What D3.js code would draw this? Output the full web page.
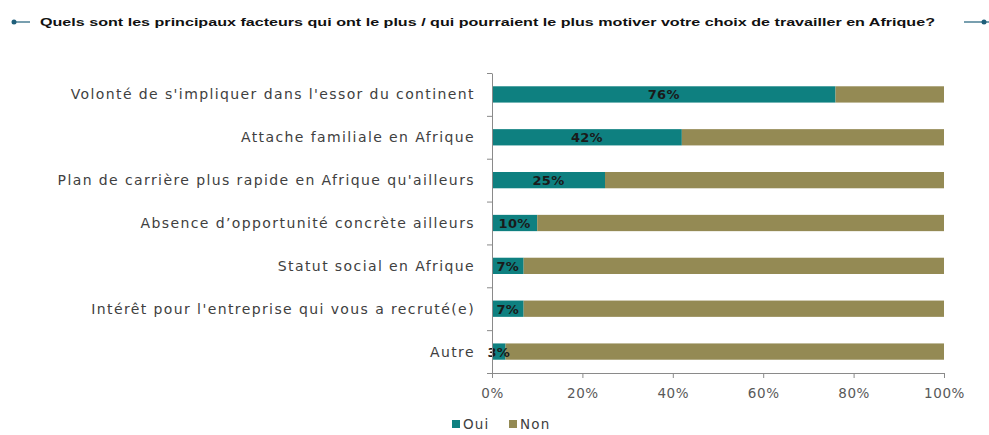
<!DOCTYPE html>
<html><head><meta charset="utf-8">
<script src="https://cdn.jsdelivr.net/npm/d3@7"></script>
<style>body{margin:0;background:#fff}svg{display:block}</style>
</head><body>
<svg id="c" width="989" height="435"></svg>
<script>
const title = "Quels sont les principaux facteurs qui ont le plus / qui pourraient le plus motiver votre choix de travailler en Afrique?";
const categories = [
  "Volonté de s'impliquer dans l'essor du continent",
  "Attache familiale en Afrique",
  "Plan de carrière plus rapide en Afrique qu'ailleurs",
  "Absence d’opportunité concrète ailleurs",
  "Statut social en Afrique",
  "Intérêt pour l'entreprise qui vous a recruté(e)",
  "Autre"
];
const oui = [76, 42, 25, 10, 7, 7, 3];
const non = oui.map(v => 100 - v);
const seriesNames = ["Oui", "Non"];
const xTicks = [0, 20, 40, 60, 80, 100];

const colors = {Oui: "#0E8080", Non: "#948A54"};
const svg = d3.select("#c");
const m = {left: 492, right: 45, top: 73, bottom: 62};
const W = 989, H = 435;

const x = d3.scaleLinear().domain([0, 100]).range([m.left, W - m.right]);
const y = d3.scaleBand().domain(categories).range([m.top, H - m.bottom]).paddingInner(0.62).paddingOuter(0.31);

// title with decorations
const tg = svg.append("g");
tg.append("line").attr("x1", 12).attr("x2", 30).attr("y1", 22).attr("y2", 22).attr("stroke", "#1f5f7a").attr("stroke-width", 1.2);
tg.append("circle").attr("cx", 14).attr("cy", 22).attr("r", 2.5).attr("fill", "#1f5f7a");
tg.append("line").attr("x1", 964).attr("x2", 989).attr("y1", 22).attr("y2", 22).attr("stroke", "#1f5f7a").attr("stroke-width", 1.2);
tg.append("circle").attr("cx", 984).attr("cy", 22).attr("r", 2.5).attr("fill", "#1f5f7a");
tg.append("text").attr("x", 40).attr("y", 26).text(title)
  .attr("font-family", "Liberation Sans, Arial, sans-serif").attr("font-weight", "bold")
  .attr("font-size", 11.5).attr("fill", "#111").attr("textLength", 895).attr("lengthAdjust", "spacingAndGlyphs");

// stacked bars
const stack = d3.stack().keys(seriesNames)(categories.map((c, i) => ({cat: c, Oui: oui[i], Non: non[i]})));
svg.append("g").selectAll("g").data(stack).join("g").attr("fill", d => colors[d.key])
  .selectAll("rect").data(d => d).join("rect")
  .attr("x", d => x(d[0])).attr("width", d => x(d[1]) - x(d[0]))
  .attr("y", d => y(d.data.cat)).attr("height", y.bandwidth());

// value labels
svg.append("g").selectAll("text").data(categories).join("text")
  .attr("x", (c, i) => x(oui[i] / 2)).attr("y", c => y(c) + y.bandwidth() / 2)
  .attr("dy", "0.38em").attr("text-anchor", "middle")
  .attr("font-family", "DejaVu Sans, Verdana, sans-serif").attr("font-weight", "bold")
  .attr("font-size", 13).attr("letter-spacing", 0.3).attr("fill", "#1a1a1a")
  .text((c, i) => oui[i] + "%");

// y axis
const yAxis = d3.axisLeft(d3.scaleLinear().domain([0, categories.length]).range([H - m.bottom, m.top]))
  .tickValues(d3.range(categories.length + 1)).tickFormat("").tickSize(5).tickSizeOuter(0);
const yg = svg.append("g").attr("transform", `translate(${m.left},0)`).call(yAxis);
yg.selectAll("path,line").attr("stroke", "#8a8a8a");

svg.append("g").selectAll("text").data(categories).join("text")
  .attr("x", 475).attr("y", c => y(c) + y.bandwidth() / 2).attr("dy", "0.36em")
  .attr("text-anchor", "end").attr("font-family", "DejaVu Sans, Verdana, sans-serif")
  .attr("font-size", 14).attr("letter-spacing", 1.4).attr("fill", "#404040").text(c => c);

// x axis
const xAxis = d3.axisBottom(x).tickValues(xTicks).tickFormat(d => d + "%").tickSize(5).tickSizeOuter(0).tickPadding(10);
const xg = svg.append("g").attr("transform", `translate(0,${H - m.bottom})`).call(xAxis);
xg.selectAll("path,line").attr("stroke", "#8a8a8a");
xg.selectAll("text").attr("font-family", "DejaVu Sans, Verdana, sans-serif").attr("font-size", 13.5)
  .attr("letter-spacing", 0.6).attr("fill", "#595959");

// legend
const lg = svg.append("g").attr("transform", "translate(452,429)");
const items = lg.selectAll("g").data(seriesNames).join("g").attr("transform", (d, i) => `translate(${i * 57},0)`);
items.append("rect").attr("x", 0).attr("y", -9).attr("width", 8).attr("height", 8).attr("fill", d => colors[d]);
items.append("text").attr("x", 11).attr("y", 0).text(d => d)
  .attr("font-family", "DejaVu Sans, Verdana, sans-serif").attr("font-size", 13.5).attr("letter-spacing", 1.2).attr("fill", "#404040");
</script>
</body></html>
